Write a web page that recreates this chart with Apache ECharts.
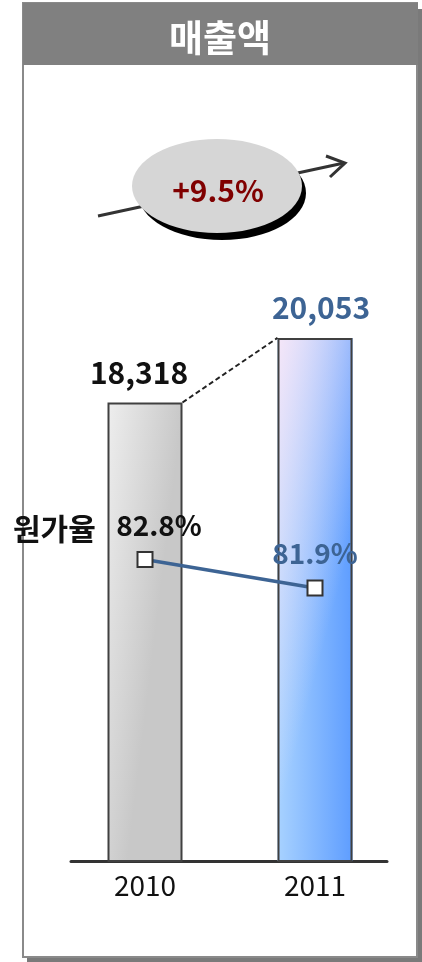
<!DOCTYPE html>
<html>
<head>
<meta charset="utf-8">
<script src="https://cdn.jsdelivr.net/npm/echarts@6/dist/echarts.min.js"></script>
<style>
  html, body { margin: 0; padding: 0; background: #fff; }
  #main { width: 422px; height: 962px; }
</style>
</head>
<body>
<div id="main"></div>
<script>
// 데이터
var years = ['2010', '2011'];
var sales = [18318, 20053];      // 매출액
var costRate = [82.8, 81.9];     // 원가율 (%)

var FONT = '"Noto Sans CJK KR", "Noto Sans", sans-serif';

function comma(n) {
  return String(n).replace(/\B(?=(\d{3})+(?!\d))/g, ',');
}

// 성장률
var growth = ((sales[1] / sales[0] - 1) * 100).toFixed(1);

var chart = echarts.init(document.getElementById('main'), null, { renderer: 'canvas' });

// 막대 색 (2011 막대는 파란 바탕 위에 분홍빛 반투명 층을 덮는다)
var baseStyles = [
  {
    color: new echarts.graphic.LinearGradient(0, 0, 1, 0.02, [
      { offset: 0, color: '#eeeeee' },
      { offset: 1, color: '#c8c8c8' }
    ]),
    borderColor: '#404040', borderWidth: 2
  },
  {
    color: new echarts.graphic.LinearGradient(0, 0, 1, 0, [
      { offset: 0, color: '#a8d2ff' },
      { offset: 1, color: '#5e9dff' }
    ]),
    borderWidth: 0
  }
];
var overlayStyle = {
  color: new echarts.graphic.LinearGradient(0, 0, 1.59, 0.06, [
    { offset: 0, color: 'rgba(252,232,248,0.92)' },
    { offset: 1, color: 'rgba(252,232,248,0)' }
  ]),
  borderColor: '#404040', borderWidth: 2
};
var labelColors = ['#111111', '#3d6494'];
var labelShift = [[-6, 0], [6, 0]];

var option = {
  animation: false,
  textStyle: { fontFamily: FONT },
  title: [
    {
      text: '원가율', left: 8, top: 509,
      textStyle: { color: '#111111', fontSize: 30, fontWeight: 'bold', fontFamily: FONT }
    }
  ],
  grid: [
    { left: 60, right: 22, top: 191, bottom: 101 },   // 막대
    { left: 60, right: 22, top: 490, bottom: 314 },   // 원가율
    { left: 71, right: 35, top: 191, bottom: 101 }    // 기준선
  ],
  xAxis: [
    {
      type: 'category', gridIndex: 0, data: years,
      axisLine: { show: false }, axisTick: { show: false },
      axisLabel: { color: '#111111', fontSize: 28, margin: 10, fontFamily: FONT }
    },
    { type: 'category', gridIndex: 1, data: years, show: false },
    {
      type: 'category', gridIndex: 2, data: years,
      axisLine: { show: true, lineStyle: { color: '#333333', width: 3 } },
      axisTick: { show: false }, axisLabel: { show: false }
    }
  ],
  yAxis: [
    { type: 'value', gridIndex: 0, min: 6000, max: 24000, show: false },
    { type: 'value', gridIndex: 1, min: 80, max: 85, show: false },
    { type: 'value', gridIndex: 2, show: false }
  ],
  series: [
    {
      type: 'bar', xAxisIndex: 0, yAxisIndex: 0, barWidth: 75, barGap: '-100%',
      data: sales.map(function(v, i) {
        return {
          value: v,
          itemStyle: baseStyles[i],
          label: {
            show: true, position: 'top', distance: 15, offset: labelShift[i],
            formatter: comma(v),
            color: labelColors[i], fontSize: 30, fontWeight: 'bold', fontFamily: FONT
          }
        };
      }),
      z: 2
    },
    {
      type: 'bar', xAxisIndex: 0, yAxisIndex: 0, barWidth: 75, barGap: '-100%',
      silent: true,
      data: sales.map(function(v, i) {
        return i === 1 ? { value: v, itemStyle: overlayStyle } : '-';
      }),
      z: 3
    },
    {
      type: 'line', xAxisIndex: 1, yAxisIndex: 1,
      symbol: 'rect', symbolSize: 15,
      lineStyle: { color: '#3d6494', width: 3.5 },
      itemStyle: { color: '#ffffff', borderColor: '#333333', borderWidth: 2 },
      data: costRate.map(function(v, i) {
        return {
          value: v,
          label: {
            show: true, position: 'top', distance: 12,
            offset: i === 0 ? [14, 0] : [0, 0],
            formatter: v.toFixed(1) + '%',
            color: labelColors[i], fontSize: 28, fontWeight: 'bold', fontFamily: FONT
          }
        };
      }),
      z: 5
    }
  ],
  graphic: [
    // 테두리 그림자
    { type: 'rect', z: -10, shape: { x: 27, y: 9, width: 395, height: 953 }, style: { fill: '#7a7a7a' } },
    { type: 'rect', z: -9, shape: { x: 23, y: 3, width: 394, height: 954 }, style: { fill: '#ffffff', stroke: '#8a8a8a', lineWidth: 2 } },
    { type: 'rect', z: -8, shape: { x: 23, y: 3, width: 395, height: 62 }, style: { fill: '#808080' } },
    {
      type: 'text', z: -7, x: 220, y: 38,
      style: {
        text: '매출액', fill: '#ffffff', font: 'bold 37px ' + FONT,
        textAlign: 'center', textVerticalAlign: 'middle'
      }
    },
    // 화살표
    { type: 'line', z: 10, shape: { x1: 98, y1: 216, x2: 344, y2: 163 }, style: { stroke: '#333333', lineWidth: 3 } },
    { type: 'polyline', z: 10, shape: { points: [[326, 156], [345, 163], [330, 177]] }, style: { stroke: '#333333', lineWidth: 3, fill: null } },
    // 타원
    { type: 'ellipse', z: 11, shape: { cx: 222, cy: 193, rx: 84, ry: 47 }, style: { fill: '#000000' } },
    { type: 'ellipse', z: 12, shape: { cx: 217, cy: 186, rx: 85, ry: 47 }, style: { fill: '#d6d6d6' } },
    {
      type: 'text', z: 13, x: 218, y: 191,
      style: {
        text: '+' + growth + '%', fill: '#800000', font: 'bold 30px ' + FONT,
        textAlign: 'center', textVerticalAlign: 'middle'
      }
    }
  ]
};

chart.setOption(option);

// 막대 상단 연결 점선
var p1 = chart.convertToPixel({ gridIndex: 0 }, [years[0], sales[0]]);
var p2 = chart.convertToPixel({ gridIndex: 0 }, [years[1], sales[1]]);
chart.setOption({
  graphic: {
    elements: [{
      id: 'dash', type: 'line', z: 10,
      shape: { x1: p1[0] + 37.5, y1: p1[1], x2: p2[0] - 37.5, y2: p2[1] },
      style: { stroke: '#222222', lineWidth: 2, lineDash: [5, 3] }
    }]
  }
});
</script>
</body>
</html>
